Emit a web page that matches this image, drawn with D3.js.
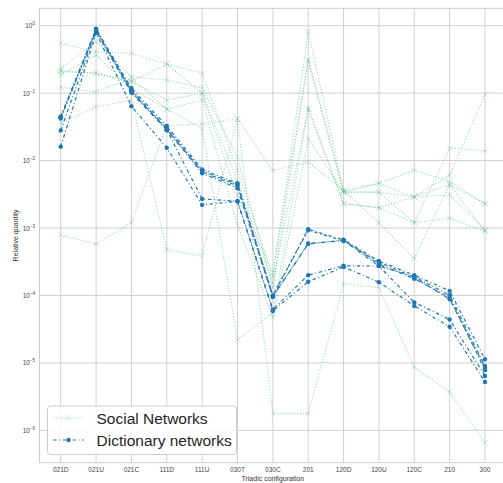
<!DOCTYPE html>
<html>
<head>
<meta charset="utf-8">
<script src="https://cdn.jsdelivr.net/npm/d3@7"></script>
<style>
  body { margin: 0; background: #fff; }
  text { font-family: "Liberation Sans", Arial, sans-serif; }
</style>
</head>
<body>
<div id="viz"></div>
<script>
"use strict";

var w = 503;
var h = 483;

// triad types on the x axis
var triads = ["021D", "021U", "021C", "111D", "111U", "030T", "030C",
              "201", "120D", "120U", "120C", "210", "300"];

var yTicks = [0, -1, -2, -3, -4, -5, -6];

// social networks
var social1 = [0.0357, 0.063, 0.079, 4.8e-4, 3.85e-4, 0.042, 1.77e-6, 1.77e-6, 1.5e-4, 1.3e-4, 8.7e-6, 3.7e-6, 6.5e-7];
var social2 = [7.9e-4, 5.8e-4, 1.2e-3, 0.033, 0.035, 0.042, 0.0071, 0.0096, 0.0036, 0.0012, 3.5e-4, 0.0044, 9.0e-4];
var social3 = [0.55, 0.41, 0.39, 0.27, 0.197, 0.0072, 1.9e-4, 0.815, 0.0036, 0.0046, 0.0072, 0.0049, 0.0023];
var social4 = [0.233, 0.58, 0.175, 0.157, 0.12, 0.011, 1.3e-4, 0.31, 0.0034, 0.0034, 0.0012, 0.0154, 0.014];
var social5 = [0.208, 0.197, 0.148, 0.079, 0.099, 0.005, 1.5e-4, 0.059, 0.0023, 0.002, 0.0029, 0.0061, 0.096];
var social6 = [0.186, 0.367, 0.118, 0.058, 0.079, 1.1e-3, 4.7e-5, 0.0213, 0.0034, 0.0034, 0.0029, 0.0031, 9.5e-4];
var social7 = [0.122, 0.105, 0.166, 0.058, 0.03, 2.2e-5, 5.5e-5, 0.059, 0.0023, 0.002, 0.0012, 0.0014, 8.9e-4];
var social8 = [0.215, 0.197, 0.148, 0.27, 0.099, 0.003, 2.2e-4, 0.31, 0.0034, 0.0046, 0.0029, 0.0044, 0.0023];

// dictionary networks
var dict1 = [0.045, 0.90, 0.118, 0.0326, 0.0074, 0.0046, 9.9e-5, 9.6e-4, 6.7e-4, 3.24e-4, 2.0e-4, 1.17e-4, 1.13e-5];
var dict2 = [0.043, 0.86, 0.107, 0.0284, 0.0065, 0.0039, 9.5e-5, 5.9e-4, 6.5e-4, 2.73e-4, 1.9e-4, 1.01e-4, 9.0e-6];
var dict3 = [0.028, 0.82, 0.101, 0.0284, 0.0027, 0.0025, 6.2e-5, 2.0e-4, 2.75e-4, 2.73e-4, 7.9e-5, 4.4e-5, 6.4e-6];
var dict4 = [0.016, 0.78, 0.064, 0.0155, 0.0022, 0.0025, 5.9e-5, 1.6e-4, 2.65e-4, 1.57e-4, 7.0e-5, 3.44e-5, 5.2e-6];
var dict5 = [0.042, 0.88, 0.11, 0.030, 0.0070, 0.0044, 9.7e-5, 5.8e-4, 6.6e-4, 2.9e-4, 1.77e-4, 9.3e-5, 7.8e-6];
var dict6 = [0.044, 0.84, 0.105, 0.029, 0.0068, 0.0042, 1.0e-4, 9.3e-4, 6.4e-4, 3.1e-4, 1.85e-4, 8.8e-5, 8.5e-6];

var socialSeries = [social1, social2, social3, social4, social5, social6, social7, social8];
var dictSeries = [dict1, dict2, dict3, dict4, dict5, dict6];

var green = "#3cb371";
var blue = "#1f77b4";
var grid = "#d0d0d0";
var dictDash = "3.5,2.6,1,2.6";
var socialDash = "1.1,1.8";

var plotLeft = 39.5, plotRight = 506.2, plotTop = 8.3, plotBottom = 462.7;

var svg = d3.select("#viz")
  .append("svg")
  .attr("width", w)
  .attr("height", h);

var x = d3.scalePoint()
  .domain(triads)
  .range([plotLeft, plotRight])
  .padding(0.6);

var y = d3.scaleLog()
  .domain([Math.pow(10, -6.48), Math.pow(10, 0.258)])
  .range([plotBottom, plotTop]);

// grid
svg.append("g")
  .selectAll("line")
  .data(triads).enter()
  .append("line")
  .attr("x1", function(d) { return x(d); })
  .attr("x2", function(d) { return x(d); })
  .attr("y1", plotTop)
  .attr("y2", plotBottom)
  .attr("stroke", grid)
  .attr("stroke-width", 1);

svg.append("g")
  .selectAll("line")
  .data(yTicks).enter()
  .append("line")
  .attr("x1", plotLeft)
  .attr("x2", plotRight)
  .attr("y1", function(d) { return y(Math.pow(10, d)); })
  .attr("y2", function(d) { return y(Math.pow(10, d)); })
  .attr("stroke", grid)
  .attr("stroke-width", 1);

// frame
svg.append("rect")
  .attr("x", plotLeft)
  .attr("y", plotTop)
  .attr("width", plotRight - plotLeft)
  .attr("height", plotBottom - plotTop)
  .attr("fill", "none")
  .attr("stroke", "#cccccc")
  .attr("stroke-width", 1);

// tick labels
svg.append("g")
  .selectAll("text")
  .data(triads).enter()
  .append("text")
  .attr("x", function(d) { return x(d); })
  .attr("y", 471.5)
  .attr("text-anchor", "middle")
  .attr("font-size", 6.5)
  .attr("fill", "#444")
  .text(function(d) { return d; });

var yLabels = svg.append("g")
  .selectAll("text")
  .data(yTicks).enter()
  .append("text")
  .attr("x", 35)
  .attr("y", function(d) { return y(Math.pow(10, d)) + 2.5; })
  .attr("text-anchor", "end")
  .attr("font-size", 6.5)
  .attr("fill", "#444");
yLabels.append("tspan").text("10");
yLabels.append("tspan")
  .attr("dy", -3)
  .attr("font-size", 4.5)
  .text(function(d) { return d === 0 ? "0" : "\u2212" + (-d); });

svg.append("text")
  .attr("transform", "translate(18," + ((plotTop + plotBottom) / 2) + ") rotate(-90)")
  .attr("text-anchor", "middle")
  .attr("font-size", 7)
  .attr("fill", "#333")
  .text("Relative quantity");

svg.append("text")
  .attr("x", (plotLeft + plotRight) / 2)
  .attr("y", 480.5)
  .attr("text-anchor", "middle")
  .attr("font-size", 7)
  .attr("fill", "#333")
  .text("Triadic configuration");

var line = d3.line()
  .x(function(d, i) { return x(triads[i]); })
  .y(function(d) { return y(d); });

function cross(size) {
  return "M" + (-size) + "," + (-size) + "L" + size + "," + size +
         "M" + (-size) + "," + size + "L" + size + "," + (-size);
}

// social networks
var socialG = svg.append("g");
socialSeries.forEach(function(s) {
  socialG.append("path")
    .datum(s)
    .attr("d", line)
    .attr("fill", "none")
    .attr("stroke", green)
    .attr("stroke-opacity", 0.5)
    .attr("stroke-width", 1.1)
    .attr("stroke-dasharray", socialDash);
  socialG.selectAll(null)
    .data(s).enter()
    .append("path")
    .attr("d", cross(3))
    .attr("transform", function(d, i) { return "translate(" + x(triads[i]) + "," + y(d) + ")"; })
    .attr("stroke", green)
    .attr("stroke-opacity", 0.22)
    .attr("stroke-width", 1)
    .attr("fill", "none");
});

// dictionary networks
var dictG = svg.append("g");
dictSeries.forEach(function(s) {
  dictG.append("path")
    .datum(s)
    .attr("d", line)
    .attr("fill", "none")
    .attr("stroke", blue)
    .attr("stroke-width", 1.2)
    .attr("stroke-dasharray", dictDash);
  dictG.selectAll(null)
    .data(s).enter()
    .append("circle")
    .attr("cx", function(d, i) { return x(triads[i]); })
    .attr("cy", function(d) { return y(d); })
    .attr("r", 2.2)
    .attr("fill", blue);
});

// legend
var legend = svg.append("g");
legend.append("rect")
  .attr("x", 47.5)
  .attr("y", 406)
  .attr("width", 189)
  .attr("height", 48.5)
  .attr("rx", 3)
  .attr("fill", "#fff")
  .attr("fill-opacity", 0.85)
  .attr("stroke", "#cccccc")
  .attr("stroke-width", 1);

legend.append("line")
  .attr("x1", 53).attr("x2", 84)
  .attr("y1", 418).attr("y2", 418)
  .attr("stroke", green)
  .attr("stroke-opacity", 0.5)
  .attr("stroke-width", 1.1)
  .attr("stroke-dasharray", socialDash);
legend.append("path")
  .attr("d", cross(3))
  .attr("transform", "translate(68.5,418)")
  .attr("stroke", green)
  .attr("stroke-opacity", 0.22)
  .attr("fill", "none");
legend.append("text")
  .attr("x", 96.5)
  .attr("y", 423.5)
  .attr("font-size", 15.5)
  .attr("fill", "#262626")
  .text("Social Networks");

legend.append("line")
  .attr("x1", 53).attr("x2", 84)
  .attr("y1", 440).attr("y2", 440)
  .attr("stroke", blue)
  .attr("stroke-width", 1.2)
  .attr("stroke-dasharray", dictDash);
legend.append("circle")
  .attr("cx", 68.5)
  .attr("cy", 440)
  .attr("r", 2.2)
  .attr("fill", blue);
legend.append("text")
  .attr("x", 96.5)
  .attr("y", 445.5)
  .attr("font-size", 15.5)
  .attr("fill", "#262626")
  .text("Dictionary networks");
</script>
</body>
</html>
